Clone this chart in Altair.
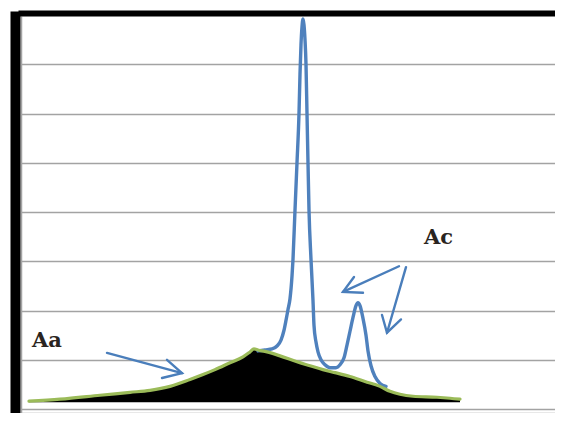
import altair as alt
import pandas as pd

# ---- data (x in retention units, y in signal units) ----
green_x = [29, 60, 100, 130, 150, 170, 190, 203, 215, 230, 243, 250, 254, 258, 267,
           280, 297, 310, 323, 335, 350, 365, 380, 390, 400, 413, 437, 450, 460]
green_y = [0.16, 0.20, 0.28, 0.34, 0.38, 0.46, 0.60, 0.70, 0.80, 0.94, 1.06, 1.16, 1.22, 1.20, 1.16,
           1.08, 0.96, 0.88, 0.80, 0.74, 0.66, 0.56, 0.46, 0.36, 0.30, 0.26, 0.24, 0.22, 0.20]

blue_x = [258, 265, 272, 277, 281, 284, 286, 288, 290, 292, 293, 295, 297, 299, 300, 301, 302, 303,
          304, 305, 306, 307, 308, 309, 311, 313, 314, 316, 318, 321, 325, 330, 336, 340, 344, 347,
          350, 353, 356, 358, 360, 363, 366, 368, 371, 375, 380, 386]
blue_y = [1.18, 1.20, 1.22, 1.28, 1.40, 1.60, 1.80, 2.02, 2.24, 2.70, 3.04, 4.04, 5.00, 6.00, 6.80, 7.40, 7.76, 7.92,
          7.80, 7.50, 7.00, 6.00, 5.00, 4.04, 3.04, 2.20, 1.70, 1.36, 1.16, 1.00, 0.90, 0.84, 0.84, 0.90, 1.04, 1.30,
          1.58, 1.86, 2.10, 2.16, 2.10, 1.84, 1.50, 1.18, 0.88, 0.66, 0.52, 0.46]

fill_base = 0.14

# annotation arrows: each polyline is one segment id
arrow_seg = ["a1", "a1", "a1h", "a1h", "a1h",
             "c1", "c1", "c1h", "c1h", "c1h",
             "c2", "c2", "c2h", "c2h", "c2h"]
arrow_x = [107, 182, 167, 182, 162,
           399, 343, 354, 343, 363,
           406, 387, 382, 387, 401]
arrow_y = [1.14, 0.73, 1.00, 0.73, 0.63,
           2.90, 2.38, 2.68, 2.38, 2.36,
           2.88, 1.55, 1.91, 1.55, 1.82]

label_text = ["Aa", "Ac"]
label_x = [32, 424]
label_y = [1.27, 3.35]

# ---- tables ----
green = pd.DataFrame({"t": green_x, "v": green_y, "base": fill_base})
blue = pd.DataFrame({"t": blue_x, "v": blue_y})
arrows = pd.DataFrame({"t": arrow_x, "v": arrow_y, "seg": arrow_seg,
                       "k": list(range(len(arrow_x)))})
labels = pd.DataFrame({"t": label_x, "v": label_y, "txt": label_text})

X_MIN, X_MAX = 21, 555
Y_MIN, Y_MAX = -0.08, 7.98
xs = alt.Scale(domain=[X_MIN, X_MAX], nice=False, zero=False)
ys = alt.Scale(domain=[Y_MIN, Y_MAX], nice=False, zero=False)

xaxis = alt.Axis(orient="top", domain=True, domainColor="black", domainWidth=6,
                 domainCap="square", offset=3, ticks=False, labels=False,
                 values=[X_MIN], grid=True, gridColor="#a3a3a3", gridWidth=1.5, title=None)
yaxis = alt.Axis(values=[Y_MIN, 0, 1, 2, 3, 4, 5, 6, 7], grid=True, gridColor="#a3a3a3", gridWidth=1.6,
                 domain=True, domainColor="black", domainWidth=10, domainCap="square", offset=6,
                 ticks=False, labels=False, title=None)


def X(field="t"):
    return alt.X(f"{field}:Q", scale=xs, axis=xaxis, title=None)


def Y(field="v"):
    return alt.Y(f"{field}:Q", scale=ys, axis=yaxis, title=None)


area = alt.Chart(green).mark_area(color="black", interpolate="monotone").encode(
    x=X(), y=Y(), y2=alt.Y2("base:Q"))

blue_line = alt.Chart(blue).mark_line(color="#4f81bd", strokeWidth=3.4, interpolate="monotone",
                                      strokeJoin="round", strokeCap="round").encode(x=X(), y=Y())

green_line = alt.Chart(green).mark_line(color="#9bbb59", strokeWidth=3.2, interpolate="monotone",
                                        strokeCap="round").encode(x=X(), y=Y())

arrow_lines = alt.Chart(arrows).mark_line(color="#4a7ebb", strokeWidth=2.4, strokeCap="round",
                                          strokeJoin="miter").encode(
    x=X(), y=Y(), detail="seg:N", order="k:Q")

text = alt.Chart(labels).mark_text(align="left", baseline="alphabetic", font="DejaVu Serif",
                                   fontSize=21, fontWeight="bold", color="#2a2420").encode(
    x=X(), y=Y(), text="txt:N")

chart = alt.layer(area, blue_line, green_line, arrow_lines, text).properties(
    width=534, height=397,
    padding={"left": 13, "top": 8, "right": 0, "bottom": 0},
    autosize=alt.AutoSizeParams(type="none"),
    background="white",
).configure_view(strokeWidth=0)

chart.save("out.html", embed_options={"renderer": "svg", "actions": False})
